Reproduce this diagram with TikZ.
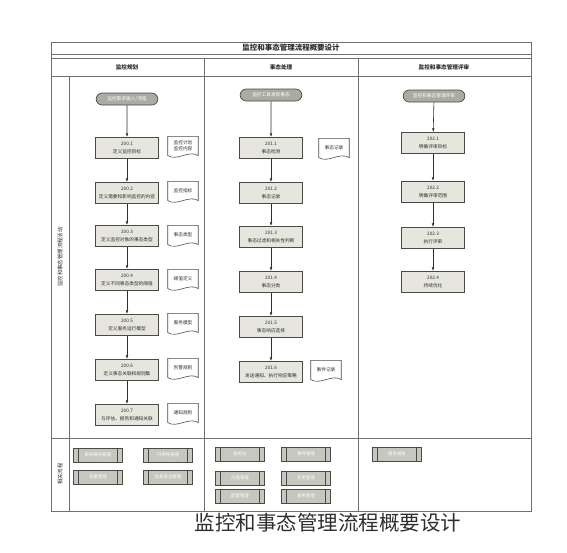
\documentclass[tikz,border=0pt]{standalone}
\usepackage{fontspec}
\setmainfont{Noto Sans CJK SC}
\usetikzlibrary{arrows.meta,shapes.misc}
\definecolor{frameline}{HTML}{707070}
\definecolor{boxline}{HTML}{4A4A46}
\definecolor{boxfill}{HTML}{E6E6DE}
\definecolor{termfill}{HTML}{ABABA3}
\definecolor{subfill}{HTML}{C6C7BF}
\definecolor{inkgray}{HTML}{2E2E2E}

\begin{document}
\begin{tikzpicture}[
  x=0.03cm,y=-0.03cm,
  lane/.style={draw=frameline,line width=.5pt},
  head/.style={font=\fontsize{4.8}{5.5}\selectfont\bfseries,text=inkgray},
  proc/.style={draw=boxline,fill=boxfill,line width=.6pt,minimum width=1.9cm,
    minimum height=.64cm,inner sep=1pt,align=center,
    font=\fontsize{4}{6.2}\selectfont,text=inkgray},
  term/.style={rounded rectangle,draw=boxline,fill=termfill,line width=.6pt,
    minimum width=1.92cm,minimum height=.36cm,inner sep=1pt,
    font=\fontsize{4}{5}\selectfont,text=white},
  docnode/.style={minimum width=.9cm,minimum height=.56cm,inner sep=1pt,
    align=center,font=\fontsize{4}{5.4}\selectfont,text=inkgray},
  docline/.style={draw=boxline,line width=.5pt},
  sub/.style={draw=boxline,fill=subfill,line width=.6pt,minimum width=1.47cm,
    minimum height=.42cm,inner sep=1pt,font=\fontsize{3.8}{5}\selectfont,text=white,
    path picture={\draw[boxline,line width=.5pt]
      ([xshift=.15cm]path picture bounding box.north west)--([xshift=.15cm]path picture bounding box.south west)
      ([xshift=-.15cm]path picture bounding box.north east)--([xshift=-.15cm]path picture bounding box.south east);}},
  arr/.style={-{Latex[length=1.1mm,width=.8mm]},line width=.5pt,draw=inkgray}
]
\useasboundingbox (0,0) rectangle (567,552);

\draw[lane] (51,42) rectangle (531,511);
\draw[lane] (51,54) -- (531,54);
\draw[lane] (51,58) -- (531,58);
\draw[lane] (51,76) -- (531,76);
\draw[lane] (204,58) -- (204,511);
\draw[lane] (358,58) -- (358,511);
\draw[lane] (69,76) -- (69,511);
\draw[lane] (51,438) -- (531,438);

\node[head,font=\fontsize{6.4}{7}\selectfont\bfseries] (title) at (291,48) {监控和事态管理流程概要设计};
\node[head] (hplan) at (127,67) {监控规划};
\node[head] (hhandle) at (281,67) {事态处理};
\node[head] (hreview) at (444,67) {监控和事态管理评审};
\node[head,rotate=90,font=\fontsize{4.6}{5}\selectfont] (lact) at (60,257) {监控和事态管理流程活动};
\node[head,rotate=90,font=\fontsize{4.6}{5}\selectfont] (lrel) at (60,474) {相关流程};

\node[term] (ls) at (127,99) {监控需求输入/流程};
\node[proc] (p1) at (127,148) {200.1\\定义监控目标};
\node[proc] (p2) at (127,193) {200.2\\定义需要和影响监控的内容};
\node[proc] (p3) at (127,236) {200.3\\定义监控对象的事态类型};
\node[proc] (p4) at (127,280) {200.4\\定义不同事态类型的阈值};
\node[proc] (p5) at (127,325) {200.5\\定义服务运行模型};
\node[proc] (p6) at (127,370) {200.6\\定义事态关联和规则集};
\node[proc] (p7) at (127,415) {200.7\\与评估、报告和通知关联};

\node[docnode] (d1) at (183,146) {监控计划\\监控内容};
\node[docnode] (d2) at (183,191) {监控指标};
\node[docnode] (d3) at (183,235) {事态类型};
\node[docnode] (d4) at (183,279) {阈值定义};
\node[docnode] (d5) at (183,323) {服务模型};
\node[docnode] (d6) at (183,368) {告警规则};
\node[docnode] (d7) at (183,413) {通知规则};

\node[term] (ms) at (271,95) {监控工具发现事态};
\node[proc] (q1) at (271,148) {201.1\\事态检测};
\node[proc] (q2) at (271,193) {201.2\\事态记录};
\node[proc] (q3) at (271,237) {201.3\\事态过滤和相关性判断};
\node[proc] (q4) at (271,282) {201.4\\事态分类};
\node[proc] (q5) at (271,327) {201.5\\事态响应选择};
\node[proc] (q6) at (271,372) {201.6\\发送通知、执行响应策略};

\node[docnode] (e1) at (334,148) {事态记录};
\node[docnode] (e2) at (326,370) {事件记录};

\node[term] (rs) at (434,96) {监控和事态管理评审};
\node[proc] (r1) at (433,143) {202.1\\明确评审目标};
\node[proc] (r2) at (433,192) {202.2\\明确评审范围};
\node[proc] (r3) at (433,238) {202.3\\执行评审};
\node[proc] (r4) at (433,282) {202.4\\持续优化};

\foreach \d in {d1,d2,d3,d4,d5,d6,d7,e1,e2}
  \draw[docline] (\d.south west) -- (\d.north west) -- (\d.north east) -- (\d.south east)
    .. controls +(-9,-6) and +(9,6) .. (\d.south west);

\draw[arr] (ls)--(p1); \draw[arr] (p1)--(p2); \draw[arr] (p2)--(p3);
\draw[arr] (p3)--(p4); \draw[arr] (p4)--(p5); \draw[arr] (p5)--(p6);
\draw[arr] (p6)--(p7);
\draw[arr] (ms)--(q1); \draw[arr] (q1)--(q2); \draw[arr] (q2)--(q3);
\draw[arr] (q3)--(q4); \draw[arr] (q4)--(q5); \draw[arr] (q5)--(q6);
\draw[arr] (rs)--(r1); \draw[arr] (r1)--(r2); \draw[arr] (r2)--(r3);
\draw[arr] (r3)--(r4);

\node[sub] (s1) at (98,455) {服务级别管理};
\node[sub] (s2) at (168,455) {可用性管理};
\node[sub] (s3) at (98,477) {容量管理};
\node[sub] (s4) at (168,477) {信息安全管理};
\node[sub] (s5) at (240,454) {服务台};
\node[sub] (s6) at (306,454) {事件管理};
\node[sub] (s7) at (240,478) {问题管理};
\node[sub] (s8) at (306,478) {变更管理};
\node[sub] (s9) at (240,496) {配置管理};
\node[sub] (s10) at (306,496) {发布管理};
\node[sub] (s11) at (397,454) {服务报告};

\node[font=\fontsize{17.5}{20}\selectfont,text=inkgray] (caption) at (328,523) {监控和事态管理流程概要设计};
\end{tikzpicture}
\end{document}
